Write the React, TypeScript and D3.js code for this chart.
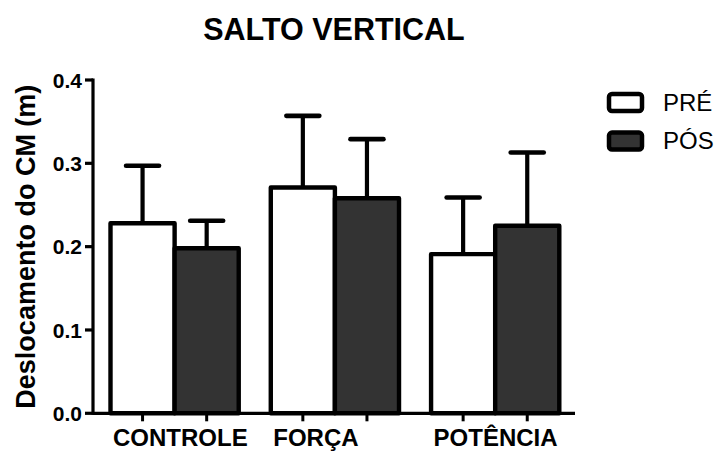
import React from "react";
import * as d3 from "d3";

// Jump height (m): group means and standard deviations
const categories = ["CONTROLE", "FORÇA", "POTÊNCIA"];
const seriesNames = ["PRÉ", "PÓS"];
const preMeans = [0.228, 0.271, 0.191];
const preSD = [0.069, 0.086, 0.068];
const posMeans = [0.198, 0.258, 0.225];
const posSD = [0.033, 0.071, 0.088];
const yTicks = [0.0, 0.1, 0.2, 0.3, 0.4];

const W = 717;
const H = 452;
const FONT = "'Liberation Sans', Arial, Helvetica, sans-serif";
const fills = ["#ffffff", "#333333"];

export default function App() {
  const y = d3.scaleLinear().domain([0, 0.4]).range([413.3, 80]);
  const xGroup = d3
    .scaleBand<string>()
    .domain(categories)
    .range([110.5, 559.3])
    .paddingInner(0.2)
    .paddingOuter(0);
  const xSeries = d3
    .scaleBand<string>()
    .domain(seriesNames)
    .range([0, xGroup.bandwidth()])
    .padding(0);

  const axisX = 93;
  const axisEnd = 575;
  const capHalf = 16.5;

  const bars = categories.flatMap((c, i) => [
    { cat: c, s: seriesNames[0], mean: preMeans[i], sd: preSD[i], fill: fills[0] },
    { cat: c, s: seriesNames[1], mean: posMeans[i], sd: posSD[i], fill: fills[1] },
  ]);

  const fmt = d3.format(".1f");

  return (
    <svg
      width={W}
      height={H}
      style={{ position: "fixed", left: 0, top: 0, background: "#fff" }}
      fontFamily={FONT}
    >
      <rect width={W} height={H} fill="#fff" />
      {/* title */}
      <text x={334} y={40} textAnchor="middle" fontWeight="bold" fontSize={30.5}>
        SALTO VERTICAL
      </text>

      {/* bars and upper error bars */}
      {bars.map((b, k) => {
        const x0 = (xGroup(b.cat) as number) + (xSeries(b.s) as number);
        const w = xSeries.bandwidth();
        const cx = x0 + w / 2;
        const yTop = y(b.mean);
        const yErr = y(b.mean + b.sd);
        return (
          <g key={k}>
            <line x1={cx} x2={cx} y1={yTop} y2={yErr} stroke="#000" strokeWidth={4.2} />
            <line
              x1={cx - capHalf}
              x2={cx + capHalf}
              y1={yErr}
              y2={yErr}
              stroke="#000"
              strokeWidth={4.6}
              strokeLinecap="round"
            />
            <rect
              x={x0}
              y={yTop}
              width={w}
              height={y(0) - yTop}
              fill={b.fill}
              stroke="#000"
              strokeWidth={4.4}
              strokeLinejoin="round"
            />
          </g>
        );
      })}

      {/* y axis */}
      <line x1={axisX} x2={axisX} y1={y(0.4) - 1.5} y2={y(0) + 1.5} stroke="#000" strokeWidth={3.2} />
      {yTicks.map((t) => (
        <g key={t}>
          <line x1={axisX - 8} x2={axisX} y1={y(t)} y2={y(t)} stroke="#000" strokeWidth={3.2} />
          <text
            x={82}
            y={y(t)}
            dy="0.36em"
            textAnchor="end"
            fontWeight="bold"
            fontSize={21}
          >
            {fmt(t)}
          </text>
        </g>
      ))}
      <text
        transform={`translate(35, ${(y(0) + y(0.4)) / 2}) rotate(-90)`}
        textAnchor="middle"
        fontWeight="bold"
        fontSize={27}
      >
        Deslocamento do CM (m)
      </text>

      {/* x axis */}
      <line x1={axisX} x2={axisEnd} y1={y(0)} y2={y(0)} stroke="#000" strokeWidth={3.2} />
      {bars.map((b, k) => {
        const cx =
          (xGroup(b.cat) as number) + (xSeries(b.s) as number) + xSeries.bandwidth() / 2;
        return (
          <line key={k} x1={cx} x2={cx} y1={y(0)} y2={y(0) + 8} stroke="#000" strokeWidth={3} />
        );
      })}
      {categories.map((c) => (
        <text
          key={c}
          x={(xGroup(c) as number) + 2.5}
          y={446}
          fontWeight="bold"
          fontSize={24}
        >
          {c}
        </text>
      ))}

      {/* legend */}
      {seriesNames.map((s, i) => (
        <g key={s} transform={`translate(0, ${i * 38.6})`}>
          <rect
            x={609}
            y={94}
            width={33}
            height={17}
            rx={3}
            fill={fills[i]}
            stroke="#000"
            strokeWidth={4.5}
          />
          <text x={663} y={110.7} fontSize={24}>
            {s}
          </text>
        </g>
      ))}
    </svg>
  );
}
